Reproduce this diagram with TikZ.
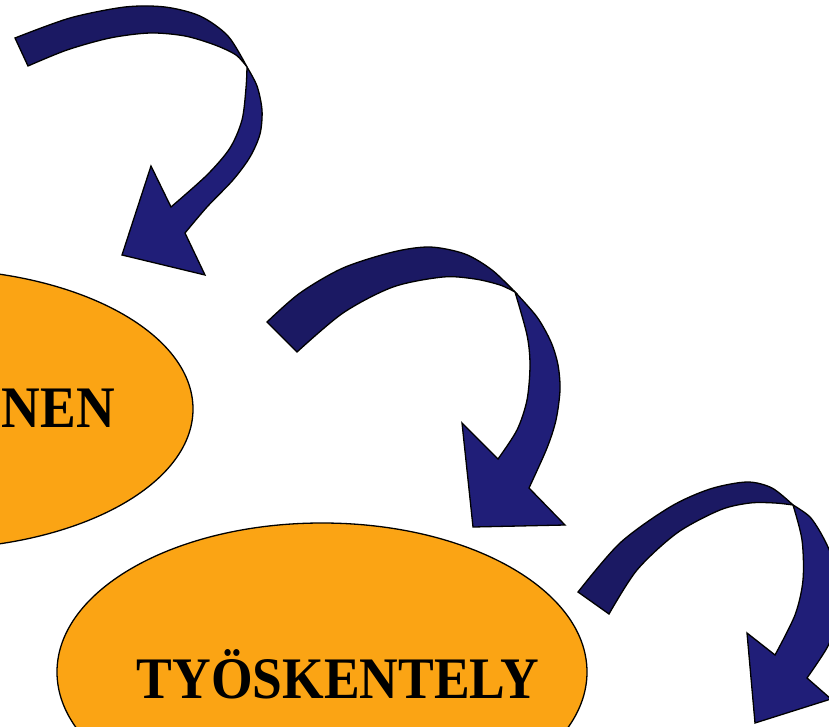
\documentclass[tikz,border=0pt]{standalone}
\usepackage{fontspec}
\usepackage{graphicx}
\setmainfont{Liberation Serif}
\usetikzlibrary{shapes.geometric}
\definecolor{egg}{RGB}{251,164,20}
\definecolor{navydark}{RGB}{27,25,99}
\definecolor{navylight}{RGB}{32,30,120}
\begin{document}
\begin{tikzpicture}[x=1pt,y=-1pt,
  bubble/.style={ellipse,draw=black,fill=egg,line width=1.3pt,inner sep=0pt},
  bandtop/.style={draw=black,fill=navydark,line width=1.3pt},
  bandlow/.style={draw=black,fill=navylight,line width=1.3pt},
  word/.style={font=\fontsize{53.5}{60}\selectfont\bfseries,inner sep=0pt}]
\useasboundingbox (0,0) rectangle (829,727);
\clip (0,0) rectangle (829,727);
%ellipses
\node[bubble,minimum width=530pt,minimum height=280pt] (prep) at (-72,409) {};
\node[bubble,minimum width=530pt,minimum height=298pt] (work) at (322,672) {};
\node[word,anchor=base east] (prepword) at (115,427) {\scalebox{1}[1.1]{INEN}};
\node[word,anchor=base] (workword) at (338,698) {\scalebox{1}[1.1]{TYÖSKENTELY}};
%arrow 1
\draw[bandtop] plot[smooth] coordinates {(15,38) (70,18) (125,7) (165,7) (200,16) (228,36) (247,67)}
  -- plot[smooth] coordinates {(247,67) (236,55) (215,45) (185,36) (150,33) (110,38) (67,50) (28,66)} -- cycle;
\draw[bandlow] plot[smooth] coordinates {(247,67) (257,86) (262,110) (260,134) (250,157) (233,180) (207,207) (185,233)}
  -- (205,275) -- (122,255) -- (151,166)
  -- plot[smooth] coordinates {(171,207) (207,175) (230,148) (242,120) (246,88) (247,67)} -- cycle;
%arrow 2
\draw[bandtop] plot[smooth] coordinates {(267,322) (300,293) (343,268) (393,252) (430,247) (465,254) (492,270) (515,292)}
  -- plot[smooth] coordinates {(515,292) (500,285) (475,279) (443,277) (393,287) (343,313) (297,352)} -- cycle;
\draw[bandlow] plot[smooth] coordinates {(515,292) (537,317) (551,342) (558,365) (560,390) (556,420) (547,448) (529,488)}
  -- (565,525) -- (473,527) -- (462,423)
  -- plot[smooth] coordinates {(498,459) (517,430) (527,400) (530,365) (527,335) (515,292)} -- cycle;
%arrow 3
\draw[bandtop] plot[smooth] coordinates {(578,592) (620,543) (670,507) (710,489) (747,482) (772,488) (793,505)}
  -- plot[smooth] coordinates {(793,505) (775,503) (750,503) (720,510) (677,533) (637,570) (609,614)} -- cycle;
\draw[bandlow] plot[smooth] coordinates {(793,505) (810,517) (823,537) (833,560) (838,590) (836,620) (828,646) (807,678)}
  -- (831,699) -- (755,723) -- (747,633)
  -- plot[smooth] coordinates {(775,655) (795,615) (803,580) (802,540) (793,505)} -- cycle;
\end{tikzpicture}
\end{document}
